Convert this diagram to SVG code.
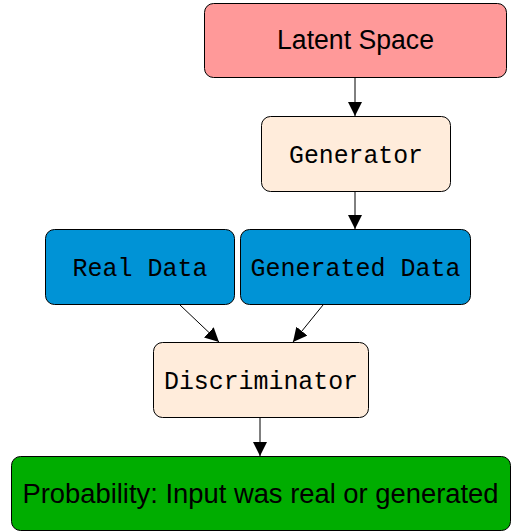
<svg xmlns="http://www.w3.org/2000/svg" width="516" height="531" viewBox="0 0 516 531">
<style>
.box{stroke:#000;stroke-width:1}
.mono{font-family:"Liberation Mono","DejaVu Sans Mono",monospace;font-size:25px;text-anchor:middle;fill:#000}
.sans{font-family:"Liberation Sans",Arial,sans-serif;font-size:27px;text-anchor:middle;fill:#000}
.conn{stroke:#000;stroke-width:1;fill:none;marker-end:url(#ah)}
</style>
<defs>
<marker id="ah" viewBox="0 0 14 14" refX="14" refY="7" markerWidth="14" markerHeight="14" markerUnits="userSpaceOnUse" orient="auto">
<path d="M0,0 L14,7 L0,14 z" fill="#000"/>
</marker>
</defs>
<rect width="516" height="531" fill="#fff"/>
<g id="connectors">
<line class="conn" x1="355" y1="78" x2="355" y2="116"/>
<line class="conn" x1="355" y1="192" x2="355" y2="229"/>
<line class="conn" x1="180" y1="305" x2="219" y2="342"/>
<line class="conn" x1="323" y1="305" x2="293" y2="342"/>
<line class="conn" x1="260" y1="418" x2="260" y2="456"/>
</g>
<g id="latent">
<rect class="box" x="204.5" y="3.5" width="302" height="74" rx="9" fill="#ff9999"/>
<text class="sans" x="355.5" y="49" textLength="157" lengthAdjust="spacingAndGlyphs">Latent Space</text>
</g>
<g id="generator">
<rect class="box" x="261.5" y="116.5" width="189" height="75" rx="9" fill="#ffecdb"/>
<text class="mono" x="356" y="163" textLength="134" lengthAdjust="spacingAndGlyphs">Generator</text>
</g>
<g id="real">
<rect class="box" x="45.5" y="229.5" width="189" height="75" rx="9" fill="#0093d6"/>
<text class="mono" x="140" y="276" textLength="135" lengthAdjust="spacingAndGlyphs">Real Data</text>
</g>
<g id="generated">
<rect class="box" x="240.5" y="229.5" width="230" height="75" rx="9" fill="#0093d6"/>
<text class="mono" x="355.5" y="276" textLength="210" lengthAdjust="spacingAndGlyphs">Generated Data</text>
</g>
<g id="discriminator">
<rect class="box" x="153.5" y="342.5" width="215" height="75" rx="9" fill="#ffecdb"/>
<text class="mono" x="261" y="389" textLength="194" lengthAdjust="spacingAndGlyphs">Discriminator</text>
</g>
<g id="probability">
<rect class="box" x="11.5" y="456.5" width="499" height="74" rx="9" fill="#00ad00"/>
<text class="sans" x="260.5" y="503" textLength="476" lengthAdjust="spacingAndGlyphs">Probability: Input was real or generated</text>
</g>
</svg>
